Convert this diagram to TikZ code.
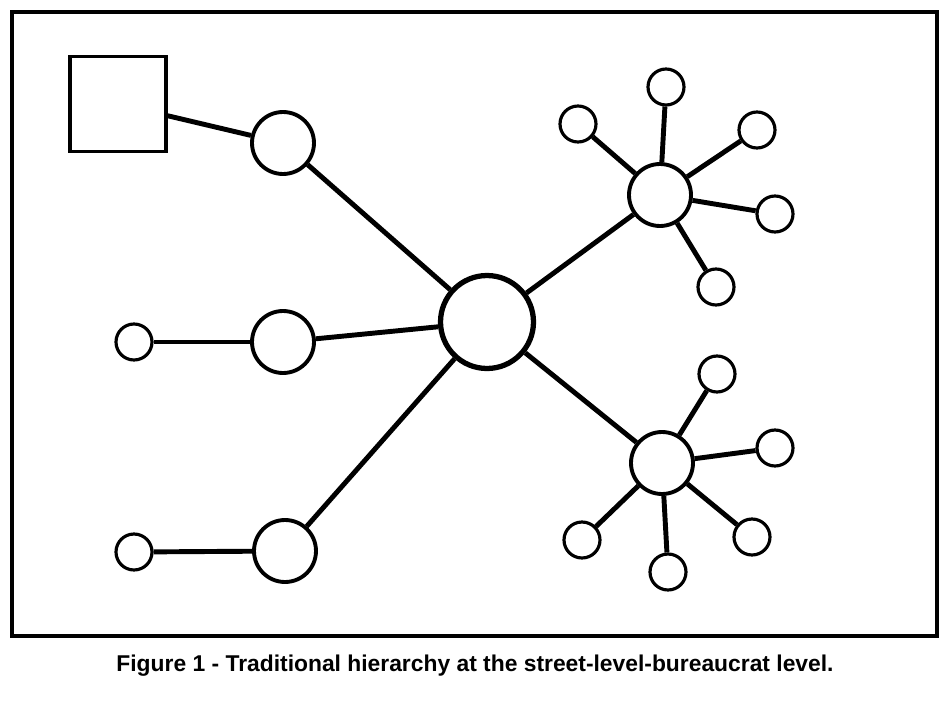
\documentclass[tikz,border=0pt]{standalone}
\usepackage{fontspec}
\setmainfont{Liberation Sans}
\usetikzlibrary{positioning}
\tikzset{
  big/.style={circle, draw, line width=2.2pt, minimum size=1.24cm, inner sep=0pt},
  hub/.style={circle, draw, line width=3pt, minimum size=1.86cm, inner sep=0pt},
  leaf/.style={circle, draw, line width=1.8pt, minimum size=0.72cm, inner sep=0pt},
  link/.style={line width=2.8pt}
}
\begin{document}
\begin{tikzpicture}[x=0.02cm, y=-0.02cm]

	% Frame and page
	\useasboundingbox (0, 0) rectangle (950, 700);
	\draw [line width=2.8pt] (12, 12) rectangle (937, 636);

	% Boss and middle layer
	\node [draw, line width=2pt, minimum width=1.92cm, minimum height=1.9cm, inner sep=0pt] (boss) at (118, 104) {};
	\node [hub] (centre) at (487, 322) {};
	\node [big] (topmid) at (283, 143) {};
	\node [big] (midmid) at (283, 342) {};
	\node [big] (lowmid) at (285, 551) {};
	\node [leaf] (midleaf) at (134, 342) {};
	\node [leaf] (lowleaf) at (134, 552) {};

	% Two clusters on the right
	\node [big] (uphub) at (660, 195) {};
	\node [big] (dnhub) at (662, 463) {};
	\foreach \n/\x/\y in {1/578/124, 2/666/87, 3/757/130, 4/775/214, 5/716/287}
		\node [leaf] (up\n) at (\x, \y) {};
	\foreach \n/\x/\y in {1/717/374, 2/775/448, 3/752/537, 4/668/572, 5/582/540}
		\node [leaf] (dn\n) at (\x, \y) {};

	% Links
	\draw [link] (boss) -- (topmid);
	\foreach \m in {topmid, midmid, lowmid, uphub, dnhub}
		\draw [link] (centre) -- (\m);
	\draw [link] (midleaf) -- (midmid);
	\draw [link] (lowleaf) -- (lowmid);
	\foreach \n in {1, ..., 5}
	{
		\draw [link] (uphub) -- (up\n);
		\draw [link] (dnhub) -- (dn\n);
	}

	% Caption
	\node [font=\bfseries\fontsize{13}{15}\selectfont] (caption) at (475, 666) {Figure 1 - Traditional hierarchy at the street-level-bureaucrat level.};

\end{tikzpicture}
\end{document}
